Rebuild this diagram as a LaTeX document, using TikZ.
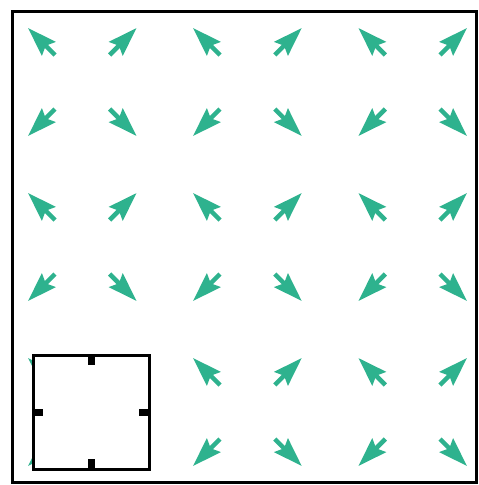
\documentclass[tikz,border=0pt]{standalone}
\usepackage{tikz}
\usepackage{xcolor}
\usetikzlibrary{arrows.meta}

\definecolor{fieldgreen}{RGB}{46,178,142}

\begin{document}
\begin{tikzpicture}[x=1pt,y=-1pt,
  fieldarrow/.style={fieldgreen,line width=4.5pt,-{Stealth[length=29pt,width=19pt,inset=4pt]}},
  boxtick/.style={black,line width=7pt}]
\useasboundingbox (0,0) rectangle (479,485);
% row 1
\draw[fieldarrow] (55,55) -- (28,28);
\draw[fieldarrow] (109.6,55) -- (136.6,28);
\draw[fieldarrow] (220,55) -- (193,28);
\draw[fieldarrow] (274.8,55) -- (301.8,28);
\draw[fieldarrow] (385.4,55) -- (358.4,28);
\draw[fieldarrow] (440,55) -- (467,28);
% row 2
\draw[fieldarrow] (55,109) -- (28,136);
\draw[fieldarrow] (109.6,109) -- (136.6,136);
\draw[fieldarrow] (220,109) -- (193,136);
\draw[fieldarrow] (274.8,109) -- (301.8,136);
\draw[fieldarrow] (385.4,109) -- (358.4,136);
\draw[fieldarrow] (440,109) -- (467,136);
% row 3
\draw[fieldarrow] (55,220) -- (28,193);
\draw[fieldarrow] (109.6,220) -- (136.6,193);
\draw[fieldarrow] (220,220) -- (193,193);
\draw[fieldarrow] (274.8,220) -- (301.8,193);
\draw[fieldarrow] (385.4,220) -- (358.4,193);
\draw[fieldarrow] (440,220) -- (467,193);
% row 4
\draw[fieldarrow] (55,274) -- (28,301);
\draw[fieldarrow] (109.6,274) -- (136.6,301);
\draw[fieldarrow] (220,274) -- (193,301);
\draw[fieldarrow] (274.8,274) -- (301.8,301);
\draw[fieldarrow] (385.4,274) -- (358.4,301);
\draw[fieldarrow] (440,274) -- (467,301);
% row 5
\draw[fieldarrow] (55,385) -- (28,358);
\draw[fieldarrow] (109.6,385) -- (136.6,358);
\draw[fieldarrow] (220,385) -- (193,358);
\draw[fieldarrow] (274.8,385) -- (301.8,358);
\draw[fieldarrow] (385.4,385) -- (358.4,358);
\draw[fieldarrow] (440,385) -- (467,358);
% row 6
\draw[fieldarrow] (55,439) -- (28,466);
\draw[fieldarrow] (109.6,439) -- (136.6,466);
\draw[fieldarrow] (220,439) -- (193,466);
\draw[fieldarrow] (274.8,439) -- (301.8,466);
\draw[fieldarrow] (385.4,439) -- (358.4,466);
\draw[fieldarrow] (440,439) -- (467,466);
% outer frame
\draw[line width=3pt] (12,11) rectangle (476,482);
% small cell
\fill[white] (33,355) rectangle (149,469);
\draw[line width=3pt] (33,355) rectangle (149,469);
\draw[boxtick] (91,355) -- (91,365);
\draw[boxtick] (91,469) -- (91,459);
\draw[boxtick] (33,412) -- (43,412);
\draw[boxtick] (149,412) -- (139,412);
\end{tikzpicture}
\end{document}
